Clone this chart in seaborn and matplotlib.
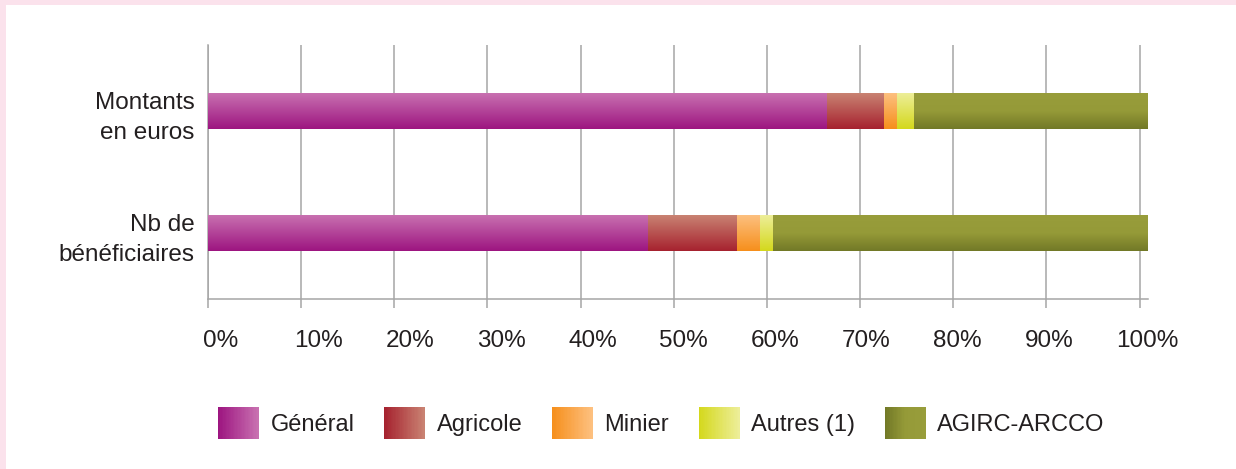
import numpy as np
import pandas as pd
import matplotlib.pyplot as plt
import seaborn as sns
from matplotlib.patches import Rectangle
from matplotlib.legend_handler import HandlerBase
from matplotlib.colors import to_rgb
from matplotlib.transforms import ScaledTranslation

# Données (parts en %)
categories = ['Montants\nen euros', 'Nb de\nbénéficiaires']
series = ['Général', 'Agricole', 'Minier', 'Autres (1)', 'AGIRC-ARCCO']
general = [66.4, 47.2]
agricole = [6.1, 9.5]
minier = [1.4, 2.5]
autres = [1.8, 1.4]
agirc = [25.2, 40.2]
xticks = list(range(0, 101, 10))
xlabels = [f'{t}%' for t in xticks]

# dégradés : clair en haut -> foncé en bas
grad = {
    'Général': ['#c870b0', '#9d1580'],
    'Agricole': ['#c98272', '#a6222f'],
    'Minier': ['#fdc07f', '#f68f1c'],
    'Autres (1)': ['#edee98', '#d4d81c'],
    'AGIRC-ARCCO': ['#989d3b', '#959a38', '#727927'],
}
txt = '#231f20'
gris = '#a6a6a6'


def make_grad(stops, n=64):
    stops = np.array([to_rgb(c) for c in stops])
    pos = np.linspace(0, 1, len(stops))
    t = np.linspace(0, 1, n)
    return np.stack([np.interp(t, pos, stops[:, i]) for i in range(3)], axis=1)


class GradHandler(HandlerBase):
    def __init__(self, stops):
        super().__init__()
        self.stops = stops

    def create_artists(self, legend, orig_handle, xdescent, ydescent,
                       width, height, fontsize, trans):
        cols = make_grad(self.stops, 30)
        n = len(cols)
        arts = []
        for i, c in enumerate(cols):
            arts.append(Rectangle((-xdescent + width * i / n, -ydescent),
                                  width / n * 1.05, height, facecolor=c,
                                  edgecolor='none', transform=trans))
        return arts


df = pd.DataFrame({'cat': categories, 'Général': general, 'Agricole': agricole,
                   'Minier': minier, 'Autres (1)': autres, 'AGIRC-ARCCO': agirc})
cum = df[series].cumsum(axis=1)

sns.set_style('white')
plt.rcParams['font.family'] = ['Liberation Sans', 'DejaVu Sans']

fig = plt.figure(figsize=(12.36, 4.69), dpi=100, facecolor='#fbe2ec')
fig.patches.append(Rectangle((6 / 1236, 0), 1, 1 - 5 / 469, transform=fig.transFigure,
                             facecolor='white', edgecolor='none', zorder=-1))
ax = fig.add_axes([0.1683, 0.3625, 0.7605, 0.5416])

# barres empilées : on trace les cumuls du plus grand au plus petit
for k, s in enumerate(reversed(series)):
    n0 = len(ax.patches)
    sns.barplot(x=cum[s], y=df['cat'], orient='h', color=grad[s][-1], width=0.29,
                linewidth=0, ax=ax, zorder=2 + k)
    img = make_grad(grad[s])[:, None, :]
    for p in ax.patches[n0:]:
        x0, w, y0, h = p.get_x(), p.get_width(), p.get_y(), p.get_height()
        ax.imshow(img, extent=(x0, x0 + w, y0 + h, y0), origin='upper',
                  aspect='auto', interpolation='bilinear', zorder=2 + k + 0.5)

ax.set_xlim(0, 100.9)
ax.set_ylim(1.537, -0.545)
ax.set_xticks(xticks)
ax.set_xticklabels(xlabels)
ax.set_xlabel('')
ax.set_ylabel('')
ax.xaxis.grid(True, color=gris, lw=1.1)
ax.yaxis.grid(False)
ax.set_axisbelow(True)
for sp in ['top', 'right']:
    ax.spines[sp].set_visible(False)
for sp in ['left', 'bottom']:
    ax.spines[sp].set_color(gris)
    ax.spines[sp].set_linewidth(1.1)
ax.tick_params(axis='x', bottom=True, length=6.5, width=1.1, color=gris,
               pad=16, labelsize=17.5, labelcolor=txt)
ax.tick_params(axis='y', left=False, length=0, pad=9.5, labelsize=17.5, labelcolor=txt)
for lab in ax.get_yticklabels():
    lab.set_linespacing(1.5)
# les étiquettes de l'original sont un peu plus serrées que la grille
for i, lab in enumerate(ax.get_xticklabels()):
    lab.set_horizontalalignment('left')
    dx = -5.3 - 1.82 * i
    lab.set_transform(lab.get_transform() + ScaledTranslation(dx / 100, 0, fig.dpi_scale_trans))

handles = [Rectangle((0, 0), 1, 1) for _ in series]
hmap = {h: GradHandler(list(reversed(grad[s]))) for h, s in zip(handles, series)}
leg = fig.legend(handles, series, handler_map=hmap, loc='center',
                 bbox_to_anchor=(0.535, 0.098), ncol=5, frameon=False, fontsize=17,
                 handlelength=1.73, handleheight=1.69, handletextpad=0.5,
                 columnspacing=1.25)
for t in leg.get_texts():
    t.set_color(txt)

fig.savefig('out.png', dpi=100, facecolor=fig.get_facecolor())
